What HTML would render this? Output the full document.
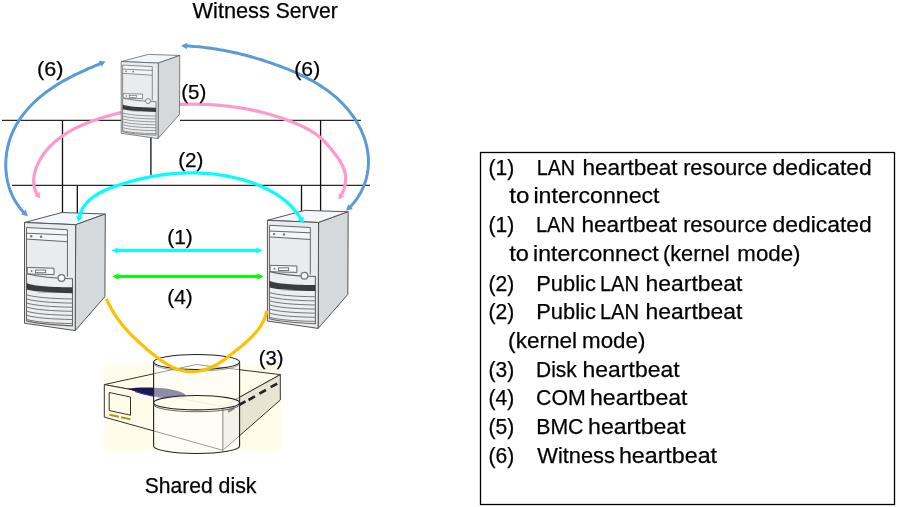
<!DOCTYPE html>
<html><head><meta charset="utf-8"><style>
html,body{margin:0;padding:0;background:#fff;width:897px;height:507px;overflow:hidden}
svg{display:block;will-change:transform;font-family:"Liberation Sans",sans-serif;fill:#000}
text{fill:#000;stroke:#000;stroke-width:0.25px}
</style></head><body>
<svg width="897" height="507" viewBox="0 0 897 507">
<g fill="none">
<path d="M2,120.4 H121 M180,120.4 H361 M12,185.4 H370" stroke="#2a2a2a" stroke-width="1.3"/>
<path d="M62.5,120.4 V213 M77.3,185.4 V213 M150.9,135 V175.5 M320.6,120.4 V211 M301.5,185.4 V211" stroke="#111" stroke-width="1.3"/>
</g>
<path d="M38.16,195.84 L38.04,195.69 L36.21,192.60 L34.90,189.38 L34.06,186.07 L33.68,182.69 L33.69,179.27 L34.08,175.83 L34.79,172.40 L35.81,169.02 L37.07,165.70 L38.56,162.47 L40.24,159.35 L42.08,156.36 L44.08,153.48 L46.23,150.73 L48.52,148.08 L50.93,145.56 L53.45,143.14 L56.08,140.84 L58.80,138.65 L61.61,136.57 L64.48,134.60 L67.42,132.73 L70.41,130.96 L73.47,129.28 L76.57,127.69 L79.72,126.19 L82.92,124.76 L86.15,123.41 L89.41,122.13 L92.70,120.91 L96.02,119.75 L99.36,118.64 L102.72,117.58 L106.09,116.57 L109.46,115.60 L112.85,114.67 L116.24,113.77 L119.64,112.92 L123.05,112.11 L126.47,111.34 L129.89,110.61 L133.32,109.92 L136.76,109.27 L140.20,108.66 L143.65,108.09 L147.10,107.56 L150.56,107.07 L154.02,106.61 L157.49,106.20 L160.96,105.83 L164.43,105.49 L167.91,105.20 L171.39,104.94 L174.88,104.73 L178.36,104.55 L181.85,104.41 L185.34,104.31 L188.83,104.25 L192.32,104.22 L195.81,104.24 L199.30,104.29 L202.80,104.38 L206.29,104.51 L209.78,104.68 L213.27,104.89 L216.76,105.13 L220.24,105.42 L223.72,105.75 L227.20,106.11 L230.67,106.52 L234.14,106.98 L237.60,107.47 L241.05,108.01 L244.50,108.59 L247.94,109.22 L251.37,109.90 L254.79,110.62 L258.19,111.38 L261.59,112.20 L264.98,113.06 L268.36,113.97 L271.72,114.93 L275.07,115.93 L278.40,116.99 L281.72,118.10 L285.02,119.26 L288.31,120.48 L291.58,121.74 L294.83,123.06 L298.07,124.44 L301.27,125.88 L304.42,127.40 L307.53,129.01 L310.56,130.72 L313.50,132.55 L316.36,134.50 L319.10,136.60 L321.72,138.85 L324.22,141.25 L326.61,143.78 L328.93,146.42 L331.20,149.14 L333.43,151.92 L335.63,154.75 L337.73,157.64 L339.68,160.58 L341.45,163.59 L342.97,166.68 L344.19,169.84 L345.08,173.09 L345.57,176.42 L345.63,179.84 L345.30,183.31 L344.59,186.77 L343.54,190.19 L342.17,193.52 L340.53,196.70" fill="none" stroke="#ff99cc" stroke-width="3.2"/><polygon points="40.4,198.6 34.2,195.7 39.6,191.8" fill="#ff99cc"/><polygon points="338.6,199.7 338.8,192.9 344.5,196.2" fill="#ff99cc"/>
<g transform="translate(121.2,61.5) scale(0.725,0.713) translate(-24.5,-221.8)">
<g>
 <polygon points="24.5,221.8 62,211.8 105.3,213.3 75.7,224" fill="#f3f6fa" stroke="#555" stroke-width="1"/>
 <polygon points="75.7,224 105.3,213.3 104.9,296 75.2,329.9" fill="#d6d9dc" stroke="#555" stroke-width="1"/>
 <polygon points="24.5,221.8 75.7,224 75.2,329.9 24.5,322.5" fill="#e9ebed" stroke="#555" stroke-width="1"/>
 <polygon points="26.5,226.8 67.4,229 67.4,241 26.5,238.4" fill="#f3f5f7"/>
 <path d="M26.5,226.8 L67.4,229 L67.4,276 M26.5,226.8 L26.5,272 M26.5,232.5 L67.4,234.3 M26.5,238.4 L67.4,241" fill="none" stroke="#666" stroke-width="1"/>
 <circle cx="31.2" cy="235.6" r="1.2" fill="#777"/>
 <circle cx="41.1" cy="236" r="1.2" fill="#777"/>
 <polygon points="27.2,266.8 54,267.5 54,273.9 27.2,273.2" fill="#f6f6f6" stroke="#666" stroke-width="1"/>
 <circle cx="31.6" cy="270.3" r="1" fill="#777"/>
 <rect x="35.5" y="269.4" width="10.2" height="2.6" fill="#fff" stroke="#666" stroke-width="0.9"/>
 <path d="M26.5,273.1 Q45,277.5 72.5,278 L72.5,325.2 C50,324 35,322.7 26.5,320.2 Z" fill="#eceef0" stroke="#666" stroke-width="1.1"/>
 <path d="M26.5,282.2 C33,285 45,286.2 72.5,286.5 L72.5,292.5 C50,292.3 35,291 26.5,288.9 Z" fill="#3a3c3e"/>
 <path d="M38,291.2 L50,291.8" stroke="#a0a0a0" stroke-width="1"/>
 <circle cx="61.5" cy="277.3" r="3.4" fill="#f6f6f6" stroke="#777" stroke-width="1.3"/>
 <path d="M26.5,294.10 C35,296.60 50,297.90 72.5,298.30 M26.5,298.20 C35,300.70 50,302.00 72.5,302.40 M26.5,302.30 C35,304.80 50,306.10 72.5,306.50 M26.5,306.40 C35,308.90 50,310.20 72.5,310.60 M26.5,310.50 C35,313.00 50,314.30 72.5,314.70 M26.5,314.60 C35,317.10 50,318.40 72.5,318.80 M26.5,318.70 C35,321.20 50,322.50 72.5,322.90 " fill="none" stroke="#777" stroke-width="1"/>
</g></g>
<g transform="translate(24.50,222.50) scale(1.0000) translate(-24.5,-221.8)">
<g>
 <polygon points="24.5,221.8 62,211.8 105.3,213.3 75.7,224" fill="#f3f6fa" stroke="#555" stroke-width="1"/>
 <polygon points="75.7,224 105.3,213.3 104.9,296 75.2,329.9" fill="#d6d9dc" stroke="#555" stroke-width="1"/>
 <polygon points="24.5,221.8 75.7,224 75.2,329.9 24.5,322.5" fill="#e9ebed" stroke="#555" stroke-width="1"/>
 <polygon points="26.5,226.8 67.4,229 67.4,241 26.5,238.4" fill="#f3f5f7"/>
 <path d="M26.5,226.8 L67.4,229 L67.4,276 M26.5,226.8 L26.5,272 M26.5,232.5 L67.4,234.3 M26.5,238.4 L67.4,241" fill="none" stroke="#666" stroke-width="1"/>
 <circle cx="31.2" cy="235.6" r="1.2" fill="#777"/>
 <circle cx="41.1" cy="236" r="1.2" fill="#777"/>
 <polygon points="27.2,266.8 54,267.5 54,273.9 27.2,273.2" fill="#f6f6f6" stroke="#666" stroke-width="1"/>
 <circle cx="31.6" cy="270.3" r="1" fill="#777"/>
 <rect x="35.5" y="269.4" width="10.2" height="2.6" fill="#fff" stroke="#666" stroke-width="0.9"/>
 <path d="M26.5,273.1 Q45,277.5 72.5,278 L72.5,325.2 C50,324 35,322.7 26.5,320.2 Z" fill="#eceef0" stroke="#666" stroke-width="1.1"/>
 <path d="M26.5,282.2 C33,285 45,286.2 72.5,286.5 L72.5,292.5 C50,292.3 35,291 26.5,288.9 Z" fill="#3a3c3e"/>
 <path d="M38,291.2 L50,291.8" stroke="#a0a0a0" stroke-width="1"/>
 <circle cx="61.5" cy="277.3" r="3.4" fill="#f6f6f6" stroke="#777" stroke-width="1.3"/>
 <path d="M26.5,294.10 C35,296.60 50,297.90 72.5,298.30 M26.5,298.20 C35,300.70 50,302.00 72.5,302.40 M26.5,302.30 C35,304.80 50,306.10 72.5,306.50 M26.5,306.40 C35,308.90 50,310.20 72.5,310.60 M26.5,310.50 C35,313.00 50,314.30 72.5,314.70 M26.5,314.60 C35,317.10 50,318.40 72.5,318.80 M26.5,318.70 C35,321.20 50,322.50 72.5,322.90 " fill="none" stroke="#777" stroke-width="1"/>
</g></g>
<g transform="translate(267.40,220.30) scale(1.0000) translate(-24.5,-221.8)">
<g>
 <polygon points="24.5,221.8 62,211.8 105.3,213.3 75.7,224" fill="#f3f6fa" stroke="#555" stroke-width="1"/>
 <polygon points="75.7,224 105.3,213.3 104.9,296 75.2,329.9" fill="#d6d9dc" stroke="#555" stroke-width="1"/>
 <polygon points="24.5,221.8 75.7,224 75.2,329.9 24.5,322.5" fill="#e9ebed" stroke="#555" stroke-width="1"/>
 <polygon points="26.5,226.8 67.4,229 67.4,241 26.5,238.4" fill="#f3f5f7"/>
 <path d="M26.5,226.8 L67.4,229 L67.4,276 M26.5,226.8 L26.5,272 M26.5,232.5 L67.4,234.3 M26.5,238.4 L67.4,241" fill="none" stroke="#666" stroke-width="1"/>
 <circle cx="31.2" cy="235.6" r="1.2" fill="#777"/>
 <circle cx="41.1" cy="236" r="1.2" fill="#777"/>
 <polygon points="27.2,266.8 54,267.5 54,273.9 27.2,273.2" fill="#f6f6f6" stroke="#666" stroke-width="1"/>
 <circle cx="31.6" cy="270.3" r="1" fill="#777"/>
 <rect x="35.5" y="269.4" width="10.2" height="2.6" fill="#fff" stroke="#666" stroke-width="0.9"/>
 <path d="M26.5,273.1 Q45,277.5 72.5,278 L72.5,325.2 C50,324 35,322.7 26.5,320.2 Z" fill="#eceef0" stroke="#666" stroke-width="1.1"/>
 <path d="M26.5,282.2 C33,285 45,286.2 72.5,286.5 L72.5,292.5 C50,292.3 35,291 26.5,288.9 Z" fill="#3a3c3e"/>
 <path d="M38,291.2 L50,291.8" stroke="#a0a0a0" stroke-width="1"/>
 <circle cx="61.5" cy="277.3" r="3.4" fill="#f6f6f6" stroke="#777" stroke-width="1.3"/>
 <path d="M26.5,294.10 C35,296.60 50,297.90 72.5,298.30 M26.5,298.20 C35,300.70 50,302.00 72.5,302.40 M26.5,302.30 C35,304.80 50,306.10 72.5,306.50 M26.5,306.40 C35,308.90 50,310.20 72.5,310.60 M26.5,310.50 C35,313.00 50,314.30 72.5,314.70 M26.5,314.60 C35,317.10 50,318.40 72.5,318.80 M26.5,318.70 C35,321.20 50,322.50 72.5,322.90 " fill="none" stroke="#777" stroke-width="1"/>
</g></g>
<path d="M102.29,62.80 L100.82,63.41 L99.21,64.08 L97.60,64.76 L95.99,65.44 L94.37,66.12 L92.76,66.81 L91.14,67.51 L89.52,68.21 L87.91,68.92 L86.29,69.63 L84.67,70.36 L83.06,71.09 L81.44,71.83 L79.83,72.58 L78.22,73.34 L76.62,74.11 L75.02,74.89 L73.42,75.68 L71.83,76.48 L70.24,77.30 L68.66,78.12 L67.09,78.96 L65.52,79.82 L63.96,80.68 L62.40,81.56 L60.86,82.46 L59.32,83.37 L57.79,84.29 L56.28,85.23 L54.77,86.19 L53.27,87.16 L51.78,88.15 L50.31,89.16 L48.85,90.19 L47.40,91.23 L45.96,92.29 L44.54,93.38 L43.13,94.48 L41.73,95.60 L40.35,96.74 L38.99,97.89 L37.65,99.07 L36.32,100.26 L35.01,101.48 L33.72,102.71 L32.46,103.96 L31.21,105.23 L29.98,106.51 L28.78,107.82 L27.60,109.14 L26.44,110.48 L25.31,111.84 L24.20,113.22 L23.12,114.61 L22.06,116.02 L21.03,117.45 L20.03,118.90 L19.06,120.37 L18.12,121.85 L17.21,123.35 L16.33,124.87 L15.48,126.41 L14.66,127.96 L13.87,129.53 L13.12,131.12 L12.40,132.72 L11.72,134.34 L11.08,135.98 L10.46,137.63 L9.89,139.30 L9.35,140.99 L8.85,142.68 L8.39,144.39 L7.96,146.11 L7.57,147.84 L7.22,149.58 L6.90,151.32 L6.62,153.08 L6.38,154.83 L6.18,156.60 L6.02,158.37 L5.90,160.14 L5.82,161.91 L5.77,163.68 L5.77,165.46 L5.80,167.23 L5.87,169.00 L5.99,170.77 L6.14,172.54 L6.34,174.30 L6.58,176.05 L6.85,177.80 L7.17,179.53 L7.53,181.26 L7.94,182.98 L8.38,184.69 L8.87,186.39 L9.40,188.07 L9.97,189.74 L10.58,191.40 L11.24,193.04 L11.94,194.66 L12.68,196.27 L13.47,197.85 L14.31,199.42 L15.18,200.96 L16.10,202.49 L17.07,203.99 L18.08,205.46 L19.13,206.92 L20.24,208.34 L21.38,209.74 L22.57,211.11 L23.81,212.46 L25.10,213.77 L25.18,213.85" fill="none" stroke="#5b9bd5" stroke-width="3.0"/><polygon points="105.6,61.4 101.3,66.8 98.8,60.7" fill="#5b9bd5"/><polygon points="27.8,216.3 21.2,214.5 25.8,209.8" fill="#5b9bd5"/>
<path d="M184.71,45.84 L186.18,45.91 L188.70,46.06 L191.22,46.22 L193.72,46.41 L196.21,46.62 L198.70,46.85 L201.18,47.11 L203.65,47.38 L206.11,47.67 L208.56,47.99 L211.01,48.32 L213.45,48.67 L215.89,49.05 L218.31,49.44 L220.73,49.86 L223.15,50.29 L225.56,50.75 L227.96,51.22 L230.36,51.71 L232.76,52.22 L235.15,52.75 L237.53,53.30 L239.92,53.87 L242.30,54.46 L244.67,55.06 L247.04,55.68 L249.41,56.32 L251.78,56.98 L254.14,57.66 L256.50,58.36 L258.87,59.07 L261.22,59.80 L263.58,60.55 L265.94,61.31 L268.30,62.09 L270.65,62.89 L273.01,63.71 L275.36,64.54 L277.72,65.39 L280.07,66.26 L282.42,67.14 L284.76,68.05 L287.10,68.98 L289.43,69.93 L291.75,70.90 L294.06,71.89 L296.37,72.91 L298.65,73.95 L300.93,75.02 L303.19,76.11 L305.44,77.23 L307.67,78.38 L309.88,79.55 L312.07,80.76 L314.24,81.99 L316.39,83.25 L318.51,84.55 L320.62,85.88 L322.69,87.24 L324.74,88.63 L326.76,90.06 L328.76,91.52 L330.72,93.02 L332.65,94.56 L334.55,96.13 L336.41,97.74 L338.24,99.39 L340.03,101.08 L341.79,102.81 L343.51,104.58 L345.18,106.40 L346.82,108.25 L348.41,110.15 L349.96,112.09 L351.46,114.08 L352.91,116.10 L354.31,118.16 L355.66,120.25 L356.96,122.38 L358.20,124.54 L359.37,126.73 L360.49,128.95 L361.54,131.20 L362.53,133.48 L363.45,135.77 L364.30,138.09 L365.07,140.43 L365.78,142.79 L366.40,145.16 L366.95,147.55 L367.41,149.95 L367.80,152.36 L368.09,154.79 L368.31,157.22 L368.43,159.65 L368.46,162.10 L368.39,164.54 L368.23,166.99 L367.98,169.43 L367.64,171.86 L367.21,174.28 L366.68,176.69 L366.07,179.08 L365.36,181.46 L364.56,183.81 L363.67,186.13 L362.69,188.43 L361.62,190.69 L360.47,192.92 L359.22,195.10 L357.89,197.25 L356.47,199.35 L354.96,201.40 L353.36,203.40 L351.67,205.35 L349.90,207.23 L348.74,208.37" fill="none" stroke="#5b9bd5" stroke-width="3.0"/><polygon points="181.1,45.7 187.3,42.7 186.9,49.3" fill="#5b9bd5"/><polygon points="346.1,210.8 348.1,204.3 352.7,209.1" fill="#5b9bd5"/>
<path d="M78.85,218.77 L79.13,217.45 L79.77,215.19 L80.53,213.04 L81.40,210.99 L82.39,209.05 L83.49,207.20 L84.68,205.45 L85.98,203.78 L87.36,202.21 L88.83,200.71 L90.38,199.30 L92.01,197.95 L93.70,196.68 L95.46,195.48 L97.28,194.34 L99.15,193.26 L101.08,192.23 L103.04,191.25 L105.05,190.32 L107.09,189.44 L109.15,188.59 L111.24,187.78 L113.35,187.01 L115.47,186.26 L117.60,185.53 L119.73,184.82 L121.86,184.14 L123.99,183.47 L126.12,182.82 L128.26,182.19 L130.39,181.58 L132.52,180.99 L134.66,180.42 L136.80,179.87 L138.94,179.34 L141.08,178.83 L143.22,178.34 L145.36,177.87 L147.50,177.42 L149.65,177.00 L151.80,176.59 L153.95,176.20 L156.10,175.84 L158.25,175.49 L160.41,175.17 L162.56,174.86 L164.72,174.58 L166.88,174.32 L169.05,174.08 L171.22,173.87 L173.38,173.67 L175.56,173.50 L177.73,173.35 L179.91,173.22 L182.09,173.11 L184.27,173.03 L186.46,172.96 L188.64,172.92 L190.84,172.91 L193.03,172.91 L195.23,172.94 L197.43,172.99 L199.63,173.07 L201.83,173.17 L204.03,173.29 L206.23,173.44 L208.43,173.61 L210.63,173.81 L212.83,174.03 L215.03,174.28 L217.22,174.55 L219.41,174.85 L221.60,175.18 L223.78,175.53 L225.96,175.91 L228.13,176.31 L230.30,176.74 L232.46,177.20 L234.61,177.69 L236.76,178.20 L238.89,178.75 L241.02,179.32 L243.14,179.91 L245.26,180.54 L247.36,181.20 L249.45,181.89 L251.53,182.60 L253.60,183.35 L255.65,184.12 L257.70,184.93 L259.73,185.76 L261.75,186.63 L263.75,187.53 L265.73,188.46 L267.70,189.43 L269.64,190.43 L271.57,191.48 L273.46,192.55 L275.33,193.67 L277.18,194.83 L278.99,196.04 L280.77,197.28 L282.52,198.57 L284.23,199.91 L285.90,201.30 L287.54,202.73 L289.14,204.21 L290.69,205.74 L292.20,207.33 L293.66,208.97 L295.08,210.66 L296.45,212.41 L297.77,214.20 L299.06,216.03 L300.30,217.89 L301.51,219.78 L301.97,220.55" fill="none" stroke="#00ffff" stroke-width="3.2"/><polygon points="78.2,222.3 76.2,215.8 82.7,217.1" fill="#00ffff"/><polygon points="303.8,223.6 297.9,220.2 303.5,216.8" fill="#00ffff"/>
<path d="M116,250.5 H258" stroke="#00ffff" stroke-width="3.1"/>
<polygon points="111.6,250.5 117.8,247.4 117.8,253.6" fill="#00ffff"/>
<polygon points="262.6,250.5 256.4,253.6 256.4,247.4" fill="#00ffff"/>
<path d="M117,276.5 H259" stroke="#00ff00" stroke-width="3.1"/>
<polygon points="112.4,276.5 118.6,273.3 118.6,279.7" fill="#00ff00"/>
<polygon points="263.6,276.5 257.4,279.7 257.4,273.3" fill="#00ff00"/>

<rect x="104" y="365" width="177" height="86" fill="#fffdea"/>
<polygon points="104.3,384.6 196,364.5 280.3,374.6 222.9,406.5" fill="#fffdea" stroke="#333" stroke-width="1"/>
<polygon points="104.3,384.6 222.9,406.5 222.9,450.3 104.3,417.1" fill="#fffdea" stroke="#333" stroke-width="1"/>
<polygon points="222.9,406.5 280.3,374.6 280.3,400 222.9,450.3" fill="#e8e3d3" stroke="#333" stroke-width="1"/>
<path d="M228,411.5 l6,-3.4 M239,405 l6.5,-3.6 M248.5,400 l6.5,-3.6 M259.4,393.6 l6.5,-3.6 M270.7,387.2 l6.5,-3.6" stroke="#222" stroke-width="2.6"/>
<polygon points="109.2,392.5 130.5,397 130.5,415.2 109.2,410.5" fill="#fffdea" stroke="#333" stroke-width="1"/>
<path d="M109.5,414.8 L119,416.8 M121,417.2 L130.5,419.2" stroke="#b8960a" stroke-width="2"/>
<path d="M127.6,388.8 C140,386.5 165,387 178,391 C188,394 188,398 180,398.5 C165,399 150,397 127.6,388.8 Z" fill="#1c1850"/>
<path d="M135,391.5 C145,395 155,397 170,398" fill="none" stroke="#3a32a0" stroke-width="1.2"/>


<path d="M153.6,362 V446 A43,7.5 0 0 0 239.6,446 V362" fill="#ffffff" fill-opacity="0.5" stroke="#222" stroke-width="1.1"/>
<ellipse cx="196.6" cy="362" rx="43" ry="7.5" fill="none" stroke="#222" stroke-width="1.1"/>
<path d="M153.6,363.5 A43,7.5 0 0 0 239.6,363.5" fill="none" stroke="#888" stroke-width="0.8"/>
<ellipse cx="196.6" cy="402.7" rx="43" ry="7.2" fill="#fffdea" fill-opacity="0.85" stroke="#222" stroke-width="1.1"/>
<path d="M153.6,404.5 A43,7.2 0 0 0 239.6,404.5" fill="none" stroke="#555" stroke-width="0.9"/>

<path d="M106.28,299.05 L107.14,300.69 L108.00,302.34 L108.86,303.99 L109.73,305.63 L110.62,307.28 L111.51,308.91 L112.43,310.52 L113.36,312.12 L114.31,313.69 L115.28,315.23 L116.28,316.74 L117.30,318.23 L118.34,319.70 L119.40,321.14 L120.49,322.55 L121.59,323.95 L122.71,325.33 L123.85,326.69 L125.02,328.03 L126.20,329.35 L127.39,330.66 L128.61,331.96 L129.84,333.25 L131.10,334.52 L132.36,335.79 L133.65,337.05 L134.95,338.30 L136.26,339.54 L137.59,340.78 L138.94,342.02 L140.30,343.26 L141.67,344.50 L143.06,345.73 L144.45,346.97 L145.87,348.21 L147.29,349.45 L148.73,350.69 L150.18,351.92 L151.64,353.14 L153.11,354.35 L154.60,355.54 L156.10,356.71 L157.62,357.87 L159.14,358.99 L160.68,360.09 L162.23,361.16 L163.79,362.19 L165.37,363.19 L166.96,364.15 L168.56,365.06 L170.17,365.93 L171.80,366.75 L173.43,367.52 L175.09,368.24 L176.75,368.89 L178.43,369.49 L180.11,370.02 L181.82,370.49 L183.53,370.88 L185.26,371.21 L186.99,371.46 L188.75,371.62 L190.51,371.71 L192.28,371.72 L194.07,371.64 L195.86,371.49 L197.65,371.26 L199.44,370.96 L201.23,370.59 L203.01,370.16 L204.78,369.66 L206.54,369.10 L208.29,368.48 L210.02,367.80 L211.72,367.07 L213.41,366.29 L215.06,365.46 L216.69,364.58 L218.28,363.67 L219.85,362.71 L221.38,361.71 L222.90,360.69 L224.39,359.63 L225.86,358.55 L227.33,357.45 L228.77,356.33 L230.22,355.20 L231.65,354.06 L233.09,352.91 L234.52,351.75 L235.96,350.60 L237.40,349.45 L238.84,348.29 L240.27,347.12 L241.70,345.95 L243.12,344.77 L244.52,343.58 L245.91,342.38 L247.28,341.16 L248.63,339.93 L249.96,338.67 L251.26,337.40 L252.53,336.11 L253.77,334.79 L254.98,333.44 L256.15,332.07 L257.28,330.67 L258.37,329.24 L259.41,327.78 L260.40,326.28 L261.35,324.74 L262.24,323.16 L263.07,321.55 L263.85,319.89 L264.56,318.19 L265.21,316.44 L265.80,314.64 L266.31,312.80 L266.75,310.90" fill="none" stroke="#ffc000" stroke-width="3.2"/>
<text x="192.52" y="17.80" font-size="22" textLength="77.36" lengthAdjust="spacingAndGlyphs">Witness</text>
<text x="275.77" y="17.80" font-size="22" textLength="62.06" lengthAdjust="spacingAndGlyphs">Server</text>
<text x="144.75" y="492.80" font-size="22" textLength="68.05" lengthAdjust="spacingAndGlyphs">Shared</text>
<text x="218.62" y="492.80" font-size="22" textLength="37.93" lengthAdjust="spacingAndGlyphs">disk</text>
<text x="37.05" y="76.00" font-size="21" textLength="26.41" lengthAdjust="spacingAndGlyphs">(6)</text>
<text x="294.32" y="76.00" font-size="21" textLength="25.87" lengthAdjust="spacingAndGlyphs">(6)</text>
<text x="181.19" y="98.50" font-size="21" textLength="25.11" lengthAdjust="spacingAndGlyphs">(5)</text>
<text x="178.22" y="167.00" font-size="21" textLength="25.28" lengthAdjust="spacingAndGlyphs">(2)</text>
<text x="167.24" y="244.00" font-size="21" textLength="25.50" lengthAdjust="spacingAndGlyphs">(1)</text>
<text x="167.24" y="303.50" font-size="21" textLength="25.50" lengthAdjust="spacingAndGlyphs">(4)</text>
<text x="258.70" y="364.50" font-size="21" textLength="24.70" lengthAdjust="spacingAndGlyphs">(3)</text>
<text x="488.58" y="174.50" font-size="22" textLength="25.67" lengthAdjust="spacingAndGlyphs">(1)</text>
<text x="536.67" y="174.50" font-size="22" textLength="38.46" lengthAdjust="spacingAndGlyphs">LAN</text>
<text x="582.43" y="174.50" font-size="22" textLength="95.21" lengthAdjust="spacingAndGlyphs">heartbeat</text>
<text x="683.13" y="174.50" font-size="22" textLength="84.09" lengthAdjust="spacingAndGlyphs">resource</text>
<text x="772.45" y="174.50" font-size="22" textLength="99.40" lengthAdjust="spacingAndGlyphs">dedicated</text>
<text x="509.20" y="203.35" font-size="22" textLength="20.17" lengthAdjust="spacingAndGlyphs">to</text>
<text x="533.46" y="203.35" font-size="22" textLength="126.09" lengthAdjust="spacingAndGlyphs">interconnect</text>
<text x="488.58" y="232.20" font-size="22" textLength="25.67" lengthAdjust="spacingAndGlyphs">(1)</text>
<text x="535.97" y="232.20" font-size="22" textLength="39.01" lengthAdjust="spacingAndGlyphs">LAN</text>
<text x="581.44" y="232.20" font-size="22" textLength="95.62" lengthAdjust="spacingAndGlyphs">heartbeat</text>
<text x="683.13" y="232.20" font-size="22" textLength="84.09" lengthAdjust="spacingAndGlyphs">resource</text>
<text x="772.45" y="232.20" font-size="22" textLength="99.40" lengthAdjust="spacingAndGlyphs">dedicated</text>
<text x="509.20" y="261.05" font-size="22" textLength="19.67" lengthAdjust="spacingAndGlyphs">to</text>
<text x="533.08" y="261.05" font-size="22" textLength="125.50" lengthAdjust="spacingAndGlyphs">interconnect</text>
<text x="662.92" y="261.05" font-size="22" textLength="66.68" lengthAdjust="spacingAndGlyphs">(kernel</text>
<text x="737.34" y="261.05" font-size="22" textLength="63.17" lengthAdjust="spacingAndGlyphs">mode)</text>
<text x="488.58" y="290.60" font-size="22" textLength="25.67" lengthAdjust="spacingAndGlyphs">(2)</text>
<text x="536.22" y="290.60" font-size="22" textLength="59.61" lengthAdjust="spacingAndGlyphs">Public</text>
<text x="599.93" y="290.60" font-size="22" textLength="39.15" lengthAdjust="spacingAndGlyphs">LAN</text>
<text x="645.61" y="290.60" font-size="22" textLength="96.66" lengthAdjust="spacingAndGlyphs">heartbeat</text>
<text x="488.58" y="318.75" font-size="22" textLength="25.67" lengthAdjust="spacingAndGlyphs">(2)</text>
<text x="536.22" y="318.75" font-size="22" textLength="59.61" lengthAdjust="spacingAndGlyphs">Public</text>
<text x="599.93" y="318.75" font-size="22" textLength="39.15" lengthAdjust="spacingAndGlyphs">LAN</text>
<text x="645.61" y="318.75" font-size="22" textLength="96.66" lengthAdjust="spacingAndGlyphs">heartbeat</text>
<text x="508.12" y="347.60" font-size="22" textLength="69.03" lengthAdjust="spacingAndGlyphs">(kernel</text>
<text x="582.10" y="347.60" font-size="22" textLength="63.28" lengthAdjust="spacingAndGlyphs">mode)</text>
<text x="488.58" y="377.25" font-size="22" textLength="25.67" lengthAdjust="spacingAndGlyphs">(3)</text>
<text x="536.04" y="377.25" font-size="22" textLength="40.78" lengthAdjust="spacingAndGlyphs">Disk</text>
<text x="582.62" y="377.25" font-size="22" textLength="96.91" lengthAdjust="spacingAndGlyphs">heartbeat</text>
<text x="488.58" y="405.30" font-size="22" textLength="25.67" lengthAdjust="spacingAndGlyphs">(4)</text>
<text x="536.08" y="405.30" font-size="22" textLength="49.84" lengthAdjust="spacingAndGlyphs">COM</text>
<text x="590.06" y="405.30" font-size="22" textLength="97.46" lengthAdjust="spacingAndGlyphs">heartbeat</text>
<text x="488.58" y="434.15" font-size="22" textLength="25.67" lengthAdjust="spacingAndGlyphs">(5)</text>
<text x="536.22" y="434.15" font-size="22" textLength="47.21" lengthAdjust="spacingAndGlyphs">BMC</text>
<text x="588.12" y="434.15" font-size="22" textLength="97.49" lengthAdjust="spacingAndGlyphs">heartbeat</text>
<text x="488.58" y="463.00" font-size="22" textLength="25.67" lengthAdjust="spacingAndGlyphs">(6)</text>
<text x="537.34" y="463.00" font-size="22" textLength="77.61" lengthAdjust="spacingAndGlyphs">Witness</text>
<text x="618.91" y="463.00" font-size="22" textLength="98.11" lengthAdjust="spacingAndGlyphs">heartbeat</text>
<rect x="480.5" y="152.5" width="414" height="352" fill="none" stroke="#000" stroke-width="1.3"/>
</svg>
</body></html>
